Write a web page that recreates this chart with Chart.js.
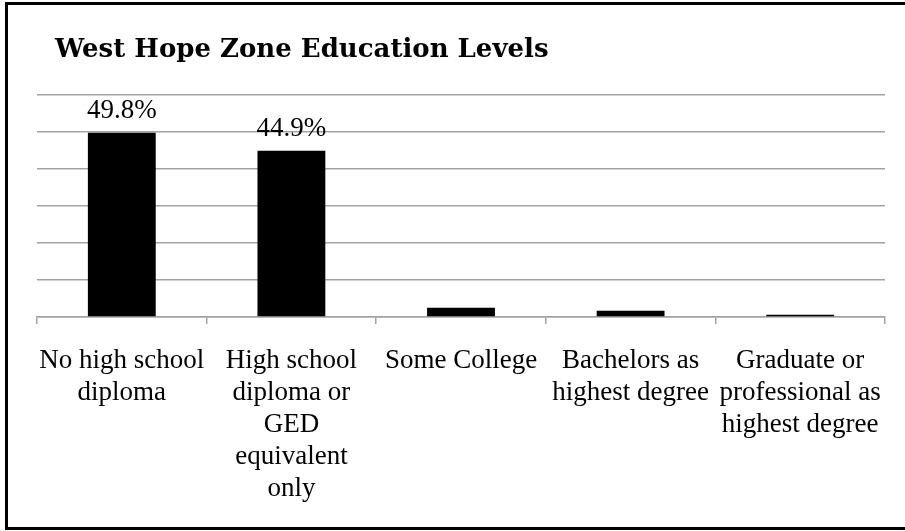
<!DOCTYPE html>
<html>
<head>
<meta charset="utf-8">
<script src="https://cdn.jsdelivr.net/npm/chart.js@4/dist/chart.umd.min.js"></script>
<style>
  html, body { margin: 0; padding: 0; background: #fff; }
  #wrap { position: relative; width: 905px; height: 531px; }
</style>
</head>
<body>
<div id="wrap"><canvas id="chart" width="905" height="531"></canvas></div>
<script>
'use strict';

// categories (already split into the lines they wrap to)
const categories = [
    ['No high school', 'diploma'],
    ['High school', 'diploma or', 'GED', 'equivalent', 'only'],
    ['Some College'],
    ['Bachelors as', 'highest degree'],
    ['Graduate or', 'professional as', 'highest degree']
];
// share of residents, percent
const shares = [49.8, 44.9, 2.5, 1.7, 0.6];
// only the first two bars carry a value label
const showValue = [true, true, false, false, false];
const yTicks = [0, 10, 20, 30, 40, 50, 60];
const chartTitle = 'West Hope Zone Education Levels';

const gridGray = '#a3a3a3';
const serif = "'Liberation Serif', 'DejaVu Serif', serif";

// draws the title and the outer frame
const framePlugin = {
    id: 'frame',
    afterDraw(chart) {
        const ctx = chart.ctx;
        ctx.save();
        ctx.fillStyle = '#000';
        ctx.font = "bold 26px 'DejaVu Serif', serif";
        ctx.textBaseline = 'alphabetic';
        ctx.textAlign = 'left';
        ctx.fillText(chartTitle, 55, 57);
        ctx.lineWidth = 3;
        ctx.strokeStyle = '#000';
        ctx.strokeRect(6.5, 3.5, 905, 525);
        ctx.restore();
    }
};

// value labels above the bars
const valueLabelPlugin = {
    id: 'valueLabels',
    afterDatasetsDraw(chart) {
        const ctx = chart.ctx;
        const meta = chart.getDatasetMeta(0);
        ctx.save();
        ctx.fillStyle = '#000';
        ctx.font = '27px ' + serif;
        ctx.textAlign = 'center';
        ctx.textBaseline = 'alphabetic';
        meta.data.forEach((bar, i) => {
            if (!showValue[i]) return;
            ctx.fillText(shares[i].toFixed(1) + '%', bar.x, bar.y - 15);
        });
        ctx.restore();
    }
};

document.addEventListener('DOMContentLoaded', function() {
    const canvas = document.querySelector('#chart').getContext('2d');
    new Chart(canvas, {
        type: 'bar',
        data: {
            labels: categories,
            datasets: [{
                label: 'Education level',
                data: shares,
                backgroundColor: '#000',
                borderWidth: 0,
                barPercentage: 0.4,
                categoryPercentage: 1.0
            }]
        },
        options: {
            responsive: false,
            animation: false,
            layout: { padding: { left: 37, right: 20, top: 95, bottom: 0 } },
            plugins: {
                legend: { display: false },
                title: { display: false },
                tooltip: { enabled: false }
            },
            scales: {
                x: {
                    grid: {
                        offset: true,
                        drawOnChartArea: false,
                        color: gridGray,
                        lineWidth: 1.5,
                        tickLength: 7
                    },
                    border: { color: gridGray, width: 1.5 },
                    ticks: {
                        autoSkip: false,
                        maxRotation: 0,
                        minRotation: 0,
                        color: '#000',
                        padding: 21,
                        font: { family: serif, size: 27, lineHeight: '32px' }
                    },
                    afterFit(scale) { scale.height = 214; }
                },
                y: {
                    min: yTicks[0],
                    max: yTicks[yTicks.length - 1],
                    afterBuildTicks(scale) { scale.ticks = yTicks.map(v => ({ value: v })); },
                    ticks: { display: false },
                    grid: { color: gridGray, lineWidth: 1.5, drawTicks: false },
                    border: { display: false },
                    afterFit(scale) { scale.width = 0; }
                }
            }
        },
        plugins: [valueLabelPlugin, framePlugin]
    });
});
</script>
</body>
</html>
